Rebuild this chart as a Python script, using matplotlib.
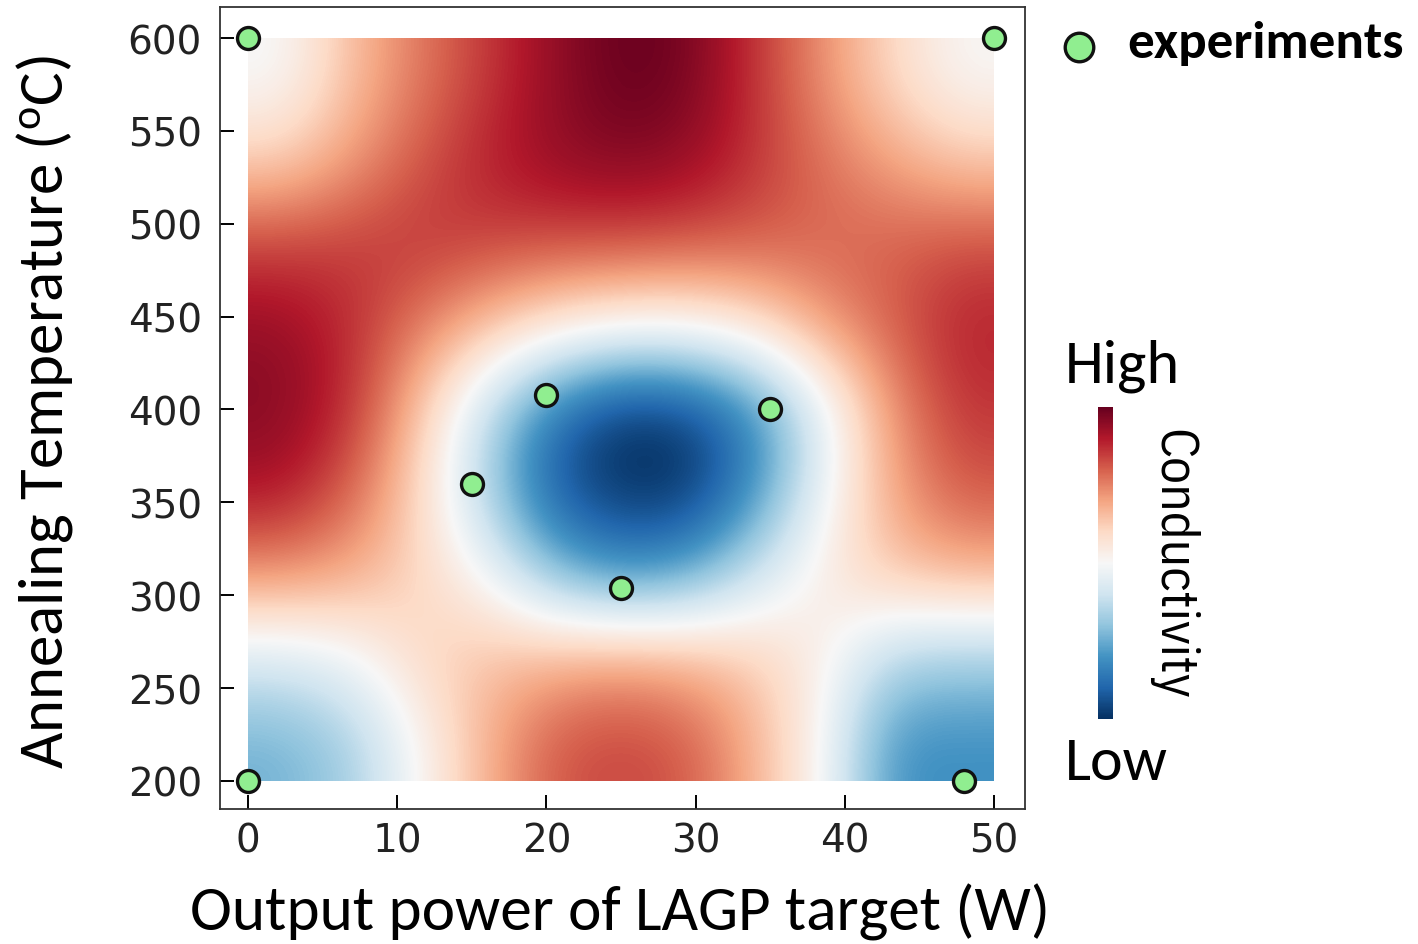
import numpy as np
import matplotlib
matplotlib.use('Agg')
import matplotlib.pyplot as plt
from matplotlib import font_manager

# Grid: columns are output power (W), rows annealing temp (C)
power_w = [0, 5, 10, 15, 20, 25, 30, 35, 40, 45, 50]
temp_c = [200, 250, 300, 350, 400, 450, 500, 550, 600]

# relative conductivity (-1 = low / dark blue, +1 = high / dark red), bottom row first
cond_200 = [-0.48, -0.35, 0.00, 0.35, 0.62, 0.68, 0.62, 0.35, 0.00, -0.62, -0.62]
cond_250 = [-0.15, -0.05, 0.20, 0.30, 0.35, 0.40, 0.35, 0.25, 0.05, -0.30, -0.35]
cond_300 = [0.45, 0.38, 0.22, 0.00, -0.42, -0.62, -0.52, -0.20, 0.10, 0.28, 0.35]
cond_350 = [0.82, 0.60, 0.22, -0.32, -0.85, -1.00, -1.00, -0.62, -0.05, 0.40, 0.62]
cond_400 = [0.92, 0.75, 0.30, -0.25, -0.75, -1.00, -0.95, -0.65, -0.10, 0.45, 0.72]
cond_450 = [0.88, 0.75, 0.52, 0.30, 0.12, 0.02, 0.02, 0.15, 0.42, 0.60, 0.78]
cond_500 = [0.68, 0.70, 0.72, 0.68, 0.65, 0.65, 0.62, 0.60, 0.58, 0.60, 0.65]
cond_550 = [0.25, 0.42, 0.62, 0.78, 0.88, 0.92, 0.88, 0.72, 0.55, 0.40, 0.28]
cond_600 = [-0.02, 0.30, 0.52, 0.70, 0.88, 1.00, 0.96, 0.72, 0.45, 0.20, 0.00]

# experiment points
exp_power = [0, 50, 0, 48, 20, 35, 15, 25]
exp_temp = [600, 600, 200, 200, 408, 400, 360, 304]

W, H = 1418, 945


def pick_font(names):
    avail = {f.name for f in font_manager.fontManager.ttflist}
    return [n for n in names if n in avail] + ['DejaVu Sans']


def fx(px):
    return px / W


def fy(py):
    return 1 - py / H


calibri = pick_font(['Carlito', 'IBM Plex Sans Condensed', 'Open Sans'])
narrow = pick_font(['IBM Plex Sans Condensed', 'Carlito', 'Open Sans'])

grid = np.array([cond_200, cond_250, cond_300, cond_350, cond_400,
                 cond_450, cond_500, cond_550, cond_600])

fig = plt.figure(figsize=(W / 100, H / 100), dpi=100)
ax = fig.add_axes([fx(220), fy(810), fx(1025) - fx(220), fy(8) - fy(810)])

im = ax.imshow(
    grid,
    origin='lower',
    cmap='RdBu_r',
    vmin=-1, vmax=1,
    interpolation='bicubic',
    aspect='auto',
    extent=(power_w[0], power_w[-1], temp_c[0], temp_c[-1]),
    )

ax.scatter(
    exp_power, exp_temp,
    s=250,
    color='#90ee90',
    edgecolor='#111111',
    linewidth=2.4,
    zorder=5,
    clip_on=False,
    label='experiments',
    )

ax.set_xlim(-1.9, 52.1)
ax.set_ylim(184.9, 616.7)
ax.set_xticks(range(0, 51, 10))
ax.set_yticks(range(200, 601, 50))
ax.tick_params(direction='in', length=10, width=1.4, labelsize=28,
               labelcolor='#222222')
ax.tick_params(axis='x', pad=9)
ax.tick_params(axis='y', pad=13)
for side in ['top', 'right', 'bottom', 'left']:
    ax.spines[side].set_linewidth(1.3)
    ax.spines[side].set_color('#333333')

renderer = fig.canvas.get_renderer()


def fit(t, target, vertical=False):
    # scale the font so the text spans the same pixels as in the picture
    bb = t.get_window_extent(renderer)
    size = bb.height if vertical else bb.width
    t.set_fontsize(t.get_fontsize() * target / size)


xl = fig.text(fx(620), fy(912), 'Output power of LAGP target (W)',
              fontsize=42, family=calibri, ha='center', va='center')
fit(xl, 860)
yl = fig.text(fx(45), fy(412), 'Annealing Temperature ($\\mathregular{^{o}}$C)',
              fontsize=42, family=calibri, rotation=90, ha='center', va='center')
fit(yl, 715, vertical=True)

leg = fig.legend(
    loc='center left',
    bbox_to_anchor=(fx(1063), fy(44)),
    frameon=False,
    borderpad=0,
    borderaxespad=0,
    prop={'family': calibri, 'weight': 'bold', 'size': 28},
    handlelength=0.8,
    handletextpad=0.85,
    markerscale=1.3,
    )
fit(leg.get_texts()[0], 277)

# colorbar
cax = fig.add_axes([fx(1098), fy(720), fx(15), fy(408) - fy(720)])
cb = fig.colorbar(im, cax=cax)
cb.set_ticks([])
cb.outline.set_visible(False)

hi = fig.text(fx(1065), fy(366), 'High', fontsize=34, family=calibri, va='center')
fit(hi, 115)
lo = fig.text(fx(1065), fy(763), 'Low', fontsize=34, family=calibri, va='center')
fit(lo, 103)
co = fig.text(fx(1172), fy(565), 'Conductivity', fontsize=30, family=narrow,
              rotation=-90, va='center', ha='center')
fit(co, 270, vertical=True)

fig.savefig('out.png', dpi=100)
